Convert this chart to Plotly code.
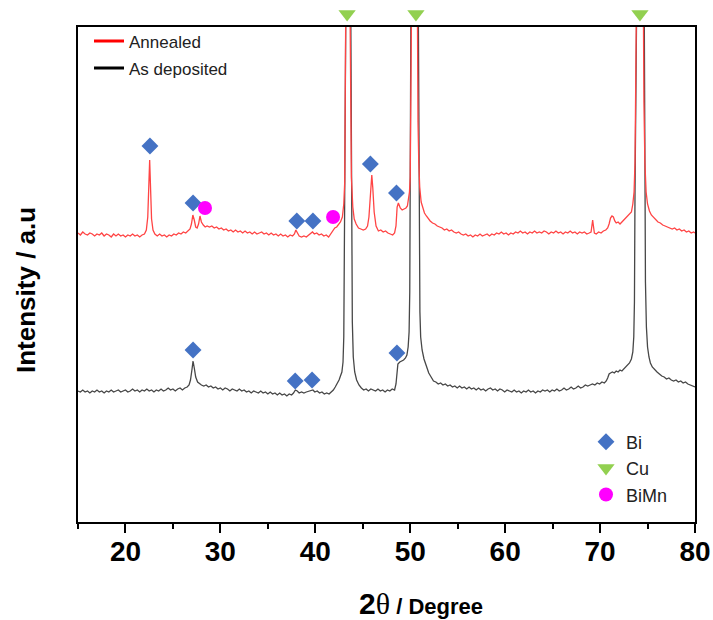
import plotly.graph_objects as go

# ---- data (2theta in degrees, intensity in arbitrary units) ----
ANNEALED = [
    (15.0, 289), (15.25, 287), (15.5, 290), (15.75, 288), (16.0, 287), (16.25, 289), (16.5, 288), (16.75, 286),
    (17.0, 288), (17.25, 287), (17.5, 289), (17.75, 286), (18.0, 288), (18.25, 287), (18.5, 285), (18.75, 288),
    (19.0, 286), (19.25, 288), (19.5, 286), (19.75, 287), (20.0, 285), (20.25, 287), (20.5, 286), (20.75, 288),
    (21.0, 286), (21.25, 287), (21.5, 285), (21.75, 287), (22.0, 288), (22.2, 292), (22.35, 305), (22.45, 335),
    (22.55, 362), (22.65, 332), (22.75, 303), (22.9, 292), (23.1, 288), (23.35, 286), (23.6, 288), (23.85, 286),
    (24.1, 287), (24.35, 285), (24.6, 287), (24.85, 286), (25.1, 288), (25.35, 287), (25.6, 289), (25.85, 288),
    (26.1, 290), (26.35, 289), (26.6, 291), (26.8, 293), (26.95, 298), (27.1, 307), (27.25, 302), (27.4, 295),
    (27.55, 294), (27.7, 298), (27.85, 306), (28.0, 300), (28.2, 297), (28.4, 295), (28.6, 296), (28.85, 295),
    (29.1, 296), (29.35, 294), (29.6, 295), (29.85, 293), (30.1, 294), (30.35, 292), (30.6, 293), (30.85, 291),
    (31.1, 292), (31.35, 290), (31.6, 292), (31.85, 290), (32.1, 291), (32.35, 289), (32.6, 291), (32.85, 289),
    (33.1, 290), (33.35, 288), (33.6, 290), (33.85, 288), (34.1, 289), (34.35, 290), (34.6, 288), (34.85, 289),
    (35.1, 287), (35.35, 289), (35.6, 287), (35.85, 288), (36.1, 286), (36.35, 288), (36.6, 286), (36.85, 287),
    (37.1, 285), (37.35, 287), (37.6, 286), (37.8, 288), (37.95, 292), (38.1, 289), (38.3, 286), (38.55, 285),
    (38.8, 286), (39.05, 285), (39.3, 287), (39.5, 289), (39.7, 290), (39.9, 288), (40.15, 289), (40.4, 287),
    (40.65, 288), (40.9, 286), (41.15, 287), (41.4, 285), (41.65, 288), (41.85, 291), (42.05, 294), (42.25, 295),
    (42.45, 297), (42.65, 300), (42.85, 305), (43.0, 318), (43.1, 340), (43.2, 420), (43.28, 560), (43.36, 760),
    (43.45, 900), (43.54, 760), (43.62, 560), (43.7, 420), (43.8, 345), (43.95, 315), (44.1, 303), (44.3, 298),
    (44.55, 294), (44.8, 293), (45.05, 292), (45.3, 293), (45.5, 296), (45.65, 305), (45.8, 330), (45.95, 347),
    (46.05, 335), (46.2, 310), (46.4, 296), (46.65, 291), (46.9, 292), (47.15, 290), (47.4, 291), (47.65, 289),
    (47.9, 288), (48.15, 287), (48.35, 289), (48.5, 296), (48.62, 315), (48.75, 319), (48.95, 314), (49.15, 312),
    (49.35, 313), (49.55, 314), (49.7, 316), (49.82, 322), (49.92, 330), (50.0, 345), (50.08, 400), (50.16, 500),
    (50.25, 700), (50.35, 880), (50.45, 900), (50.55, 880), (50.65, 700), (50.74, 500), (50.82, 400), (50.9, 360),
    (51.0, 335), (51.15, 320), (51.3, 314), (51.5, 309), (51.7, 306), (51.9, 303), (52.1, 301), (52.35, 299),
    (52.6, 298), (52.85, 296), (53.1, 295), (53.35, 294), (53.6, 292), (53.85, 293), (54.1, 291), (54.35, 292),
    (54.6, 290), (54.85, 289), (55.1, 290), (55.35, 288), (55.6, 287), (55.85, 288), (56.1, 286), (56.35, 287),
    (56.6, 285), (56.85, 287), (57.1, 286), (57.35, 288), (57.6, 286), (57.85, 287), (58.1, 288), (58.35, 286),
    (58.6, 288), (58.85, 287), (59.1, 289), (59.35, 288), (59.6, 290), (59.85, 288), (60.1, 289), (60.35, 287),
    (60.6, 289), (60.85, 288), (61.1, 290), (61.35, 289), (61.6, 291), (61.85, 289), (62.1, 290), (62.35, 288),
    (62.6, 290), (62.85, 289), (63.1, 291), (63.35, 289), (63.6, 290), (63.85, 289), (64.1, 291), (64.35, 290),
    (64.6, 288), (64.85, 290), (65.1, 289), (65.35, 291), (65.6, 289), (65.85, 290), (66.1, 288), (66.35, 290),
    (66.6, 289), (66.85, 291), (67.1, 289), (67.35, 290), (67.6, 288), (67.85, 290), (68.1, 289), (68.35, 290),
    (68.6, 288), (68.85, 289), (69.05, 290), (69.15, 297), (69.22, 302), (69.3, 296), (69.4, 289), (69.6, 288),
    (69.85, 290), (70.1, 289), (70.35, 291), (70.6, 292), (70.8, 294), (70.95, 298), (71.1, 304), (71.25, 306),
    (71.4, 305), (71.55, 301), (71.7, 299), (71.9, 300), (72.1, 298), (72.3, 300), (72.5, 302), (72.7, 303),
    (72.9, 305), (73.1, 307), (73.3, 310), (73.45, 318), (73.58, 330), (73.68, 360), (73.78, 420), (73.86, 520),
    (73.95, 700), (74.05, 860), (74.2, 900), (74.35, 860), (74.45, 700), (74.54, 520), (74.62, 420), (74.72, 360),
    (74.85, 330), (75.0, 318), (75.2, 311), (75.4, 307), (75.6, 305), (75.85, 302), (76.1, 300), (76.35, 299),
    (76.6, 297), (76.85, 296), (77.1, 295), (77.35, 294), (77.6, 293), (77.85, 294), (78.1, 292), (78.35, 293),
    (78.6, 291), (78.85, 292), (79.1, 290), (79.35, 291), (79.6, 289), (79.85, 290), (80.0, 289),
]

AS_DEPOSITED = [
    (15.0, 131), (15.25, 130), (15.5, 132), (15.75, 130), (16.0, 131), (16.25, 129), (16.5, 131), (16.75, 130),
    (17.0, 132), (17.25, 130), (17.5, 131), (17.75, 129), (18.0, 131), (18.25, 130), (18.5, 132), (18.75, 130),
    (19.0, 131), (19.25, 132), (19.5, 130), (19.75, 131), (20.0, 132), (20.25, 130), (20.5, 131), (20.75, 133),
    (21.0, 131), (21.25, 132), (21.5, 130), (21.75, 132), (22.0, 131), (22.25, 133), (22.5, 131), (22.75, 132),
    (23.0, 130), (23.25, 132), (23.5, 131), (23.75, 133), (24.0, 131), (24.25, 132), (24.5, 134), (24.75, 132),
    (25.0, 133), (25.25, 131), (25.5, 133), (25.75, 134), (26.0, 132), (26.25, 134), (26.5, 135), (26.7, 137),
    (26.85, 142), (27.0, 152), (27.12, 161), (27.25, 154), (27.4, 145), (27.6, 140), (27.8, 138), (28.0, 137),
    (28.25, 136), (28.5, 137), (28.75, 135), (29.0, 136), (29.25, 134), (29.5, 135), (29.75, 133), (30.0, 134),
    (30.25, 132), (30.5, 134), (30.75, 133), (31.0, 131), (31.25, 133), (31.5, 132), (31.75, 131), (32.0, 133),
    (32.25, 131), (32.5, 132), (32.75, 130), (33.0, 131), (33.25, 129), (33.5, 131), (33.75, 130), (34.0, 129),
    (34.25, 131), (34.5, 129), (34.75, 130), (35.0, 128), (35.25, 130), (35.5, 128), (35.75, 129), (36.0, 127),
    (36.25, 129), (36.5, 127), (36.75, 128), (37.0, 126), (37.25, 128), (37.5, 127), (37.7, 129), (37.9, 132),
    (38.1, 131), (38.3, 129), (38.55, 130), (38.8, 129), (39.05, 130), (39.3, 131), (39.55, 132), (39.75, 132),
    (39.95, 130), (40.2, 131), (40.45, 129), (40.7, 130), (40.95, 128), (41.2, 129), (41.45, 128), (41.7, 130),
    (41.9, 132), (42.1, 135), (42.3, 138), (42.5, 142), (42.65, 146), (42.8, 150), (42.92, 160), (43.0, 185),
    (43.08, 300), (43.15, 450), (43.22, 620), (43.3, 800), (43.45, 880), (43.6, 800), (43.68, 620), (43.75, 450),
    (43.82, 300), (43.9, 200), (44.0, 165), (44.15, 150), (44.35, 142), (44.6, 137), (44.85, 134), (45.1, 132),
    (45.35, 133), (45.6, 131), (45.85, 133), (46.1, 132), (46.35, 131), (46.6, 133), (46.85, 131), (47.1, 132),
    (47.35, 130), (47.6, 132), (47.85, 131), (48.1, 133), (48.35, 132), (48.5, 138), (48.6, 152), (48.7, 158),
    (48.9, 160), (49.1, 161), (49.3, 162), (49.5, 164), (49.65, 167), (49.78, 175), (49.88, 190), (49.95, 230),
    (50.0, 400), (50.05, 520), (50.15, 700), (50.3, 860), (50.45, 900), (50.6, 860), (50.75, 700), (50.85, 520),
    (50.9, 400), (50.97, 280), (51.02, 210), (51.1, 185), (51.25, 172), (51.45, 163), (51.7, 155), (51.95, 149),
    (52.2, 145), (52.45, 141), (52.7, 140), (52.95, 138), (53.2, 139), (53.45, 137), (53.7, 138), (53.95, 136),
    (54.2, 137), (54.45, 135), (54.7, 136), (54.95, 134), (55.2, 136), (55.45, 134), (55.7, 135), (55.95, 133),
    (56.2, 135), (56.45, 133), (56.7, 134), (56.95, 132), (57.2, 134), (57.45, 132), (57.7, 133), (57.95, 131),
    (58.2, 133), (58.45, 134), (58.7, 132), (58.95, 133), (59.2, 131), (59.45, 133), (59.7, 132), (59.95, 130),
    (60.2, 132), (60.45, 131), (60.7, 130), (60.95, 132), (61.2, 130), (61.45, 131), (61.7, 129), (61.95, 131),
    (62.2, 130), (62.45, 132), (62.7, 130), (62.95, 131), (63.2, 129), (63.45, 131), (63.7, 130), (63.95, 132),
    (64.2, 131), (64.45, 132), (64.7, 130), (64.95, 132), (65.2, 131), (65.45, 133), (65.7, 131), (65.95, 132),
    (66.2, 134), (66.45, 132), (66.7, 133), (66.95, 135), (67.2, 133), (67.45, 134), (67.7, 136), (67.95, 134),
    (68.2, 135), (68.45, 137), (68.7, 136), (68.95, 137), (69.2, 138), (69.45, 137), (69.7, 139), (69.95, 138),
    (70.2, 140), (70.45, 139), (70.65, 141), (70.8, 144), (70.95, 148), (71.1, 149), (71.3, 150), (71.5, 149),
    (71.7, 151), (71.9, 150), (72.1, 152), (72.3, 151), (72.5, 153), (72.7, 154), (72.9, 156), (73.1, 159),
    (73.3, 163), (73.45, 170), (73.55, 185), (73.62, 220), (73.68, 330), (73.74, 500), (73.85, 700), (73.95, 800),
    (74.2, 880), (74.45, 800), (74.55, 700), (74.66, 500), (74.72, 330), (74.78, 240), (74.88, 195), (75.0, 175),
    (75.15, 165), (75.3, 159), (75.5, 155), (75.75, 152), (76.0, 150), (76.25, 148), (76.5, 146), (76.75, 145),
    (77.0, 143), (77.25, 144), (77.5, 142), (77.75, 141), (78.0, 142), (78.25, 140), (78.5, 141), (78.75, 139),
    (79.0, 140), (79.25, 138), (79.5, 137), (79.75, 136), (80.0, 135),
]

# phase markers (2theta, marker height)
BI_MARKS = [(22.58, 376), (27.12, 319), (38.05, 301), (39.75, 301), (45.8, 358), (48.55, 329),
            (27.12, 172), (37.88, 141), (39.66, 142), (48.6, 169)]
CU_MARKS = [(43.35, 508), (50.6, 508), (74.2, 508)]
BIMN_MARKS = [(28.38, 314), (41.87, 305)]

X_TICKS = [20, 30, 40, 50, 60, 70, 80]

# ---- figure geometry (pixels) ----
W, H = 713, 620
PLOT_LEFT, PLOT_RIGHT = 78, 695
PLOT_TOP, PLOT_BOTTOM = 27, 522
MARGIN_TOP = 10
Y_MAX = PLOT_BOTTOM - PLOT_TOP           # intensity units == pixels
FULL = PLOT_BOTTOM - MARGIN_TOP
PW = PLOT_RIGHT - PLOT_LEFT
dom_top = Y_MAX / FULL


def px(xp):
    return (xp - PLOT_LEFT) / PW


def py(yp):
    return (PLOT_BOTTOM - yp) / FULL


fig = go.Figure()

ax, ay = zip(*ANNEALED)
bx, by = zip(*AS_DEPOSITED)
fig.add_trace(go.Scatter(x=bx, y=by, mode="lines", line=dict(color="#474747", width=1.3),
                         showlegend=False, hoverinfo="skip"))
fig.add_trace(go.Scatter(x=ax, y=ay, mode="lines", line=dict(color="#FF4444", width=1.3),
                         showlegend=False, hoverinfo="skip"))

# legend entries for the two patterns
fig.add_trace(go.Scatter(x=[None], y=[None], mode="lines", name="Annealed",
                         line=dict(color="#FF0000", width=3), legend="legend"))
fig.add_trace(go.Scatter(x=[None], y=[None], mode="lines", name="As deposited",
                         line=dict(color="#000000", width=3), legend="legend2"))

# phase markers
for marks, name, sym, col, size, yax in [
    (BI_MARKS, "Bi", "diamond", "#4472C4", 13, "y"),
    (CU_MARKS, "Cu", "triangle-down", "#92D050", 15, "y2"),
    (BIMN_MARKS, "BiMn", "circle", "#FF00FF", 14, "y"),
]:
    mx, my = zip(*marks)
    fig.add_trace(go.Scatter(x=mx, y=my, mode="markers", name=name, cliponaxis=False, yaxis=yax,
                             marker=dict(symbol=sym, color=col, size=size, line=dict(width=0)),
                             legend="legend3"))

legend_font = dict(family="Liberation Sans, Arial", size=17, color="#222")
fig.update_layout(
    width=W, height=H,
    margin=dict(l=PLOT_LEFT, r=W - PLOT_RIGHT, t=MARGIN_TOP, b=H - PLOT_BOTTOM),
    paper_bgcolor="white", plot_bgcolor="rgba(0,0,0,0)",
    font=dict(family="Liberation Sans, Arial", color="black"),
    legend=dict(x=px(89), y=py(23.5), xanchor="left", yanchor="top", font=legend_font,
                bgcolor="rgba(0,0,0,0)"),
    legend2=dict(x=px(89), y=py(50.5), xanchor="left", yanchor="top", font=legend_font,
                 bgcolor="rgba(0,0,0,0)"),
    legend3=dict(x=px(586), y=py(423.5), xanchor="left", yanchor="top",
                 font=dict(family="Liberation Sans, Arial", size=18, color="#222"),
                 bgcolor="rgba(0,0,0,0)"),
    xaxis=dict(range=[15, 80], tickvals=X_TICKS, ticks="outside", ticklen=9, tickwidth=1.5,
               tickcolor="black", showline=True, linecolor="black", linewidth=1.5, mirror=True,
               showgrid=False, zeroline=False, automargin=False, ticklabelstandoff=-5,
               tickfont=dict(family="Liberation Sans Narrow, Liberation Sans, Arial", size=28,
                             weight="bold", color="black"),
               minor=dict(dtick=5, tick0=15, ticks="outside", ticklen=5, tickwidth=1.5,
                          tickcolor="black", showgrid=False)),
    yaxis=dict(range=[0, Y_MAX], domain=[0, dom_top], showticklabels=False, ticks="",
               showline=True, linecolor="black", linewidth=1.5, mirror=True, showgrid=False,
               zeroline=False, automargin=False),
    yaxis2=dict(range=[0, FULL], domain=[0, 1], anchor="x", visible=False, showgrid=False,
                zeroline=False, automargin=False),
    annotations=[
        dict(text="<b>Intensity / a.u</b>", xref="paper", yref="paper", x=px(26), y=py(290),
             xanchor="center", yanchor="middle", textangle=-90, showarrow=False,
             font=dict(family="Liberation Sans, Arial", size=26, color="black")),
        dict(text="<b><span style='font-size:30px'>2</span></b>"
                  "<span style='font-family:Liberation Serif;font-size:30px'>θ</span>"
                  "<b> / Degree</b>",
             xref="paper", yref="paper", x=px(421), y=py(603), xanchor="center", yanchor="middle",
             showarrow=False, font=dict(family="Liberation Sans, Arial", size=22, color="black")),
    ],
)

# remove the browser's default 8 px page margin so the 713x620 figure fills the window
fig.write_html("out.html", config={"displayModeBar": False},
               post_script="document.body.style.margin='0';")
